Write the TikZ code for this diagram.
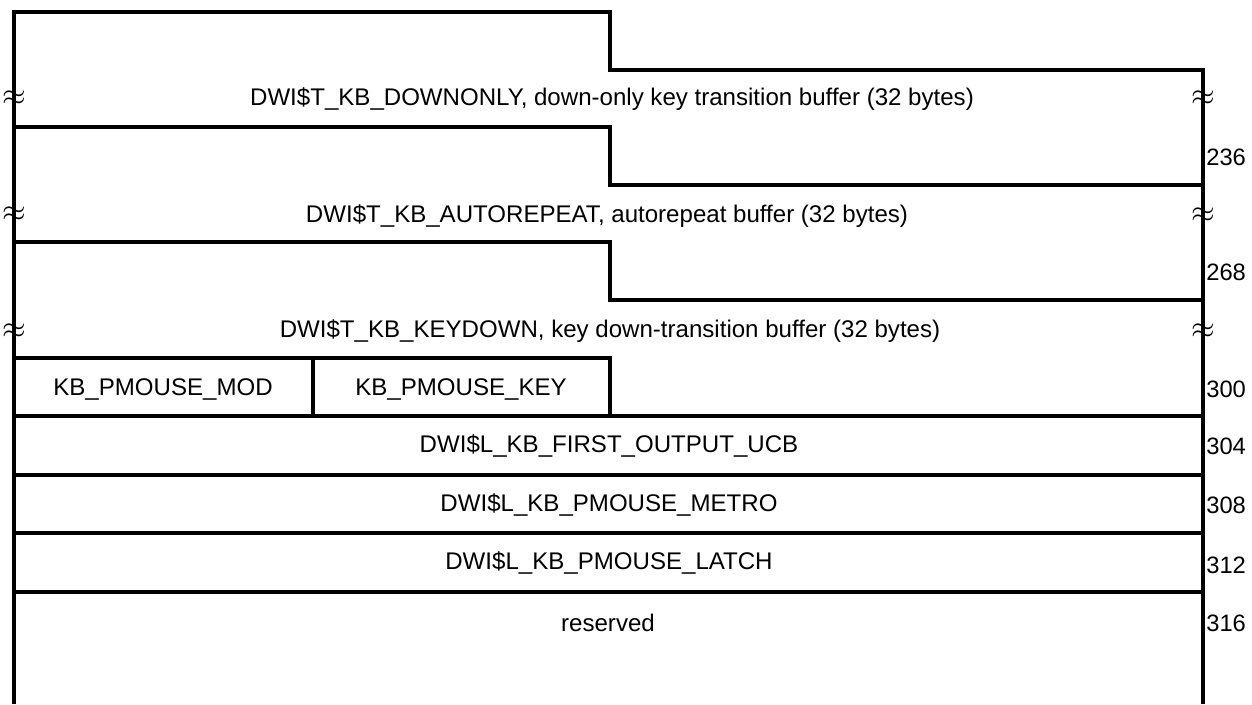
\documentclass[tikz,border=0pt]{standalone}
\usepackage{fontspec}
\setmainfont{Liberation Sans}
\usetikzlibrary{positioning}

\tikzset{
  wall/.style={line width=2pt},
  field/.style={inner sep=0pt, font=\fontsize{13.7}{16}\selectfont},
  offset/.style={anchor=west, inner sep=0pt, font=\fontsize{13.5}{16}\selectfont},
  brk/.style={inner sep=0pt, font=\fontsize{19}{19}\selectfont}
}

\begin{document}
\begin{tikzpicture}[x=0.02cm, y=-0.02cm]
\useasboundingbox (0,0) rectangle (1252,704);

% Outline (open at the bottom)
\draw[wall] (14,704) -- (14,12) -- (610,12) -- (610,70) -- (1203,70) -- (1203,704);

% Buffer boundaries
\draw[wall] (14,127) -- (610,127) -- (610,185) -- (1203,185);
\draw[wall] (14,242) -- (610,242) -- (610,300) -- (1203,300);
\draw[wall] (14,358) -- (610,358) -- (610,416);
\draw[wall] (313,358) -- (313,416);
\foreach \y in {416,475,533,592}
  \draw[wall] (14,\y) -- (1203,\y);

% Break marks
\node[brk] (bl1) at (14,98) {$\approx$};
\node[brk] (bl2) at (14,214) {$\approx$};
\node[brk] (bl3) at (14,331) {$\approx$};
\node[brk] (br1) at (1203,98) {$\approx$};
\node[brk] (br2) at (1203,215) {$\approx$};
\node[brk] (br3) at (1203,331) {$\approx$};

% Fields
\node[field] (downonly) at (612,99) {DWI\$T\_KB\_DOWNONLY, down-only key transition buffer (32 bytes)};
\node[field] (autorep) at (607,216) {DWI\$T\_KB\_AUTOREPEAT, autorepeat buffer (32 bytes)};
\node[field] (keydown) at (610,331) {DWI\$T\_KB\_KEYDOWN, key down-transition buffer (32 bytes)};
\node[field] (pmod) at (163,389) {KB\_PMOUSE\_MOD};
\node[field] (pkey) at (461,389) {KB\_PMOUSE\_KEY};
\node[field] (firstucb) at (609,446) {DWI\$L\_KB\_FIRST\_OUTPUT\_UCB};
\node[field] (metro) at (609,505) {DWI\$L\_KB\_PMOUSE\_METRO};
\node[field] (latch) at (609,563) {DWI\$L\_KB\_PMOUSE\_LATCH};
\node[field] (resv) at (608,623) {reserved};

% Offsets
\node[offset] (o236) at (1206,157) {236};
\node[offset] (o268) at (1206,272) {268};
\node[offset] (o300) at (1206,389) {300};
\node[offset] (o304) at (1206,446) {304};
\node[offset] (o308) at (1206,505) {308};
\node[offset] (o312) at (1206,565) {312};
\node[offset] (o316) at (1206,623) {316};
\end{tikzpicture}
\end{document}
